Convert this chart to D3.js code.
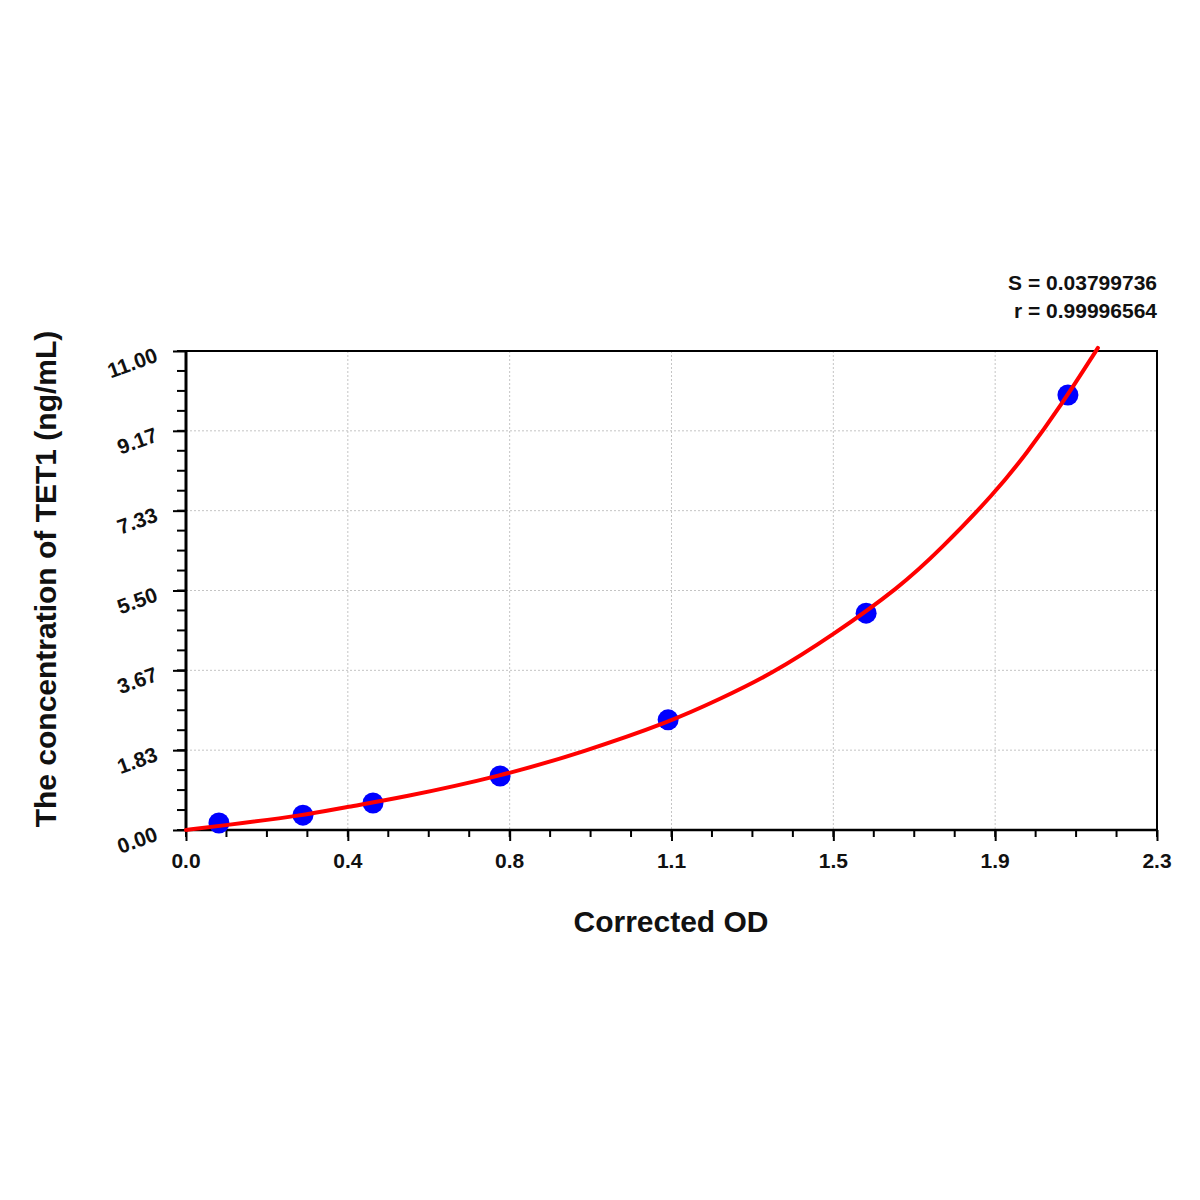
<!DOCTYPE html>
<html><head><meta charset="utf-8">
<script src="https://cdn.jsdelivr.net/npm/d3@7"></script>
<style>
html,body{margin:0;padding:0;background:#fff;}
svg text{font-family:"Liberation Sans",Arial,sans-serif;font-weight:bold;fill:#111;}
</style></head>
<body>
<svg id="c" width="1200" height="1200"></svg>
<script>
// Standard points (Corrected OD, concentration ng/mL)
const pointOD   = [0.078, 0.277, 0.443, 0.744, 1.142, 1.611, 2.089];
const pointConc = [0.16, 0.34, 0.62, 1.24, 2.53, 4.98, 9.99];
// Fitted curve
const curveOD   = [0.0, 0.078, 0.282, 0.381, 0.507, 0.748, 0.940, 1.146, 1.265, 1.383, 1.533, 1.691, 1.786, 1.916, 1.992, 2.070, 2.160];
const curveConc = [0.0, 0.092, 0.34, 0.53, 0.735, 1.24, 1.79, 2.48, 3.01, 3.56, 4.48, 5.58, 6.43, 7.74, 8.66, 9.71, 11.07];
const xTickValues = [0, 2.3/6, 4.6/6, 6.9/6, 9.2/6, 11.5/6, 2.3];
const xTickLabels = ["0.0","0.4","0.8","1.1","1.5","1.9","2.3"];
const yTickValues = [0, 11/6, 22/6, 33/6, 44/6, 55/6, 11];
const yTickLabels = ["0.00","1.83","3.67","5.50","7.33","9.17","11.00"];
const statLines = ["S = 0.03799736", "r = 0.99996564"];
const xTitle = "Corrected OD";
const yTitle = "The concentration of TET1 (ng/mL)";

const svg = d3.select("#c");
const L = 186, R = 1157, T = 351, B = 830;
const x = d3.scaleLinear().domain([0, 2.3]).range([L, R]);
const y = d3.scaleLinear().domain([0, 11]).range([B, T]);

// grid
const g = svg.append("g");
g.selectAll("line.gx").data(xTickValues.slice(1, -1)).join("line")
  .attr("x1", d => x(d)).attr("x2", d => x(d)).attr("y1", T).attr("y2", B)
  .attr("stroke", "#c4c4c4").attr("stroke-width", 1).attr("stroke-dasharray", "2,2");
g.selectAll("line.gy").data(yTickValues.slice(1, -1)).join("line")
  .attr("y1", d => y(d)).attr("y2", d => y(d)).attr("x1", L).attr("x2", R)
  .attr("stroke", "#c4c4c4").attr("stroke-width", 1).attr("stroke-dasharray", "2,2");

// minor ticks
const xMinor = d3.range(0, 25).map(i => i * 2.3 / 24);
const yMinor = d3.range(0, 25).map(i => i * 11 / 24);

// x axis
const xAxis = d3.axisBottom(x).tickValues(xTickValues).tickFormat("").tickSize(11);
const xa = svg.append("g").attr("transform", `translate(0,${B})`).call(xAxis);
xa.select(".domain").remove();
xa.selectAll(".tick line").attr("stroke", "#000").attr("stroke-width", 2);
svg.append("g").selectAll("line").data(xMinor).join("line")
  .attr("x1", d => x(d)).attr("x2", d => x(d)).attr("y1", B).attr("y2", B + 7)
  .attr("stroke", "#000").attr("stroke-width", 2);
svg.append("g").selectAll("text").data(xTickValues).join("text")
  .attr("x", d => x(d)).attr("y", 868).attr("text-anchor", "middle").attr("font-size", 21)
  .text((d, i) => xTickLabels[i]);

// y axis
const yAxis = d3.axisLeft(y).tickValues(yTickValues).tickFormat("").tickSize(13);
const ya = svg.append("g").attr("transform", `translate(${L},0)`).call(yAxis);
ya.select(".domain").remove();
ya.selectAll(".tick line").attr("stroke", "#000").attr("stroke-width", 2);
svg.append("g").selectAll("line").data(yMinor).join("line")
  .attr("x1", L - 9).attr("x2", L).attr("y1", d => y(d)).attr("y2", d => y(d))
  .attr("stroke", "#000").attr("stroke-width", 2);
svg.append("g").selectAll("text").data(yTickValues).join("text")
  .attr("transform", d => `translate(${L - 27},${y(d) + 10}) rotate(-20)`)
  .attr("text-anchor", "end").attr("font-size", 21)
  .text((d, i) => yTickLabels[i]);

// frame
svg.append("rect").attr("x", L).attr("y", T).attr("width", R - L).attr("height", B - T)
  .attr("fill", "none").attr("stroke", "#000").attr("stroke-width", 2);
svg.append("line").attr("x1", L).attr("x2", L).attr("y1", T).attr("y2", B).attr("stroke", "#000").attr("stroke-width", 3);
svg.append("line").attr("x1", L).attr("x2", R).attr("y1", B).attr("y2", B).attr("stroke", "#000").attr("stroke-width", 2.5);

// points
svg.append("g").selectAll("circle").data(pointOD).join("circle")
  .attr("cx", d => x(d)).attr("cy", (d, i) => y(pointConc[i])).attr("r", 10.5)
  .attr("fill", "#0000ff");

// curve
const line = d3.line().x(d => x(d[0])).y(d => y(d[1])).curve(d3.curveBasis);
svg.append("path").datum(curveOD.map((d, i) => [d, curveConc[i]]))
  .attr("d", line).attr("fill", "none").attr("stroke", "#ff0000").attr("stroke-width", 4)
  .attr("stroke-linecap", "round");

// stats
svg.append("g").selectAll("text").data(statLines).join("text")
  .attr("x", R).attr("y", (d, i) => 290 + i * 28).attr("text-anchor", "end")
  .attr("font-size", 21).text(d => d);

// titles
svg.append("text").attr("x", 671).attr("y", 932).attr("text-anchor", "middle")
  .attr("font-size", 30).text(xTitle);
svg.append("text").attr("transform", `translate(56,579) rotate(-90)`).attr("text-anchor", "middle")
  .attr("font-size", 30).text(yTitle);
</script>
</body></html>
